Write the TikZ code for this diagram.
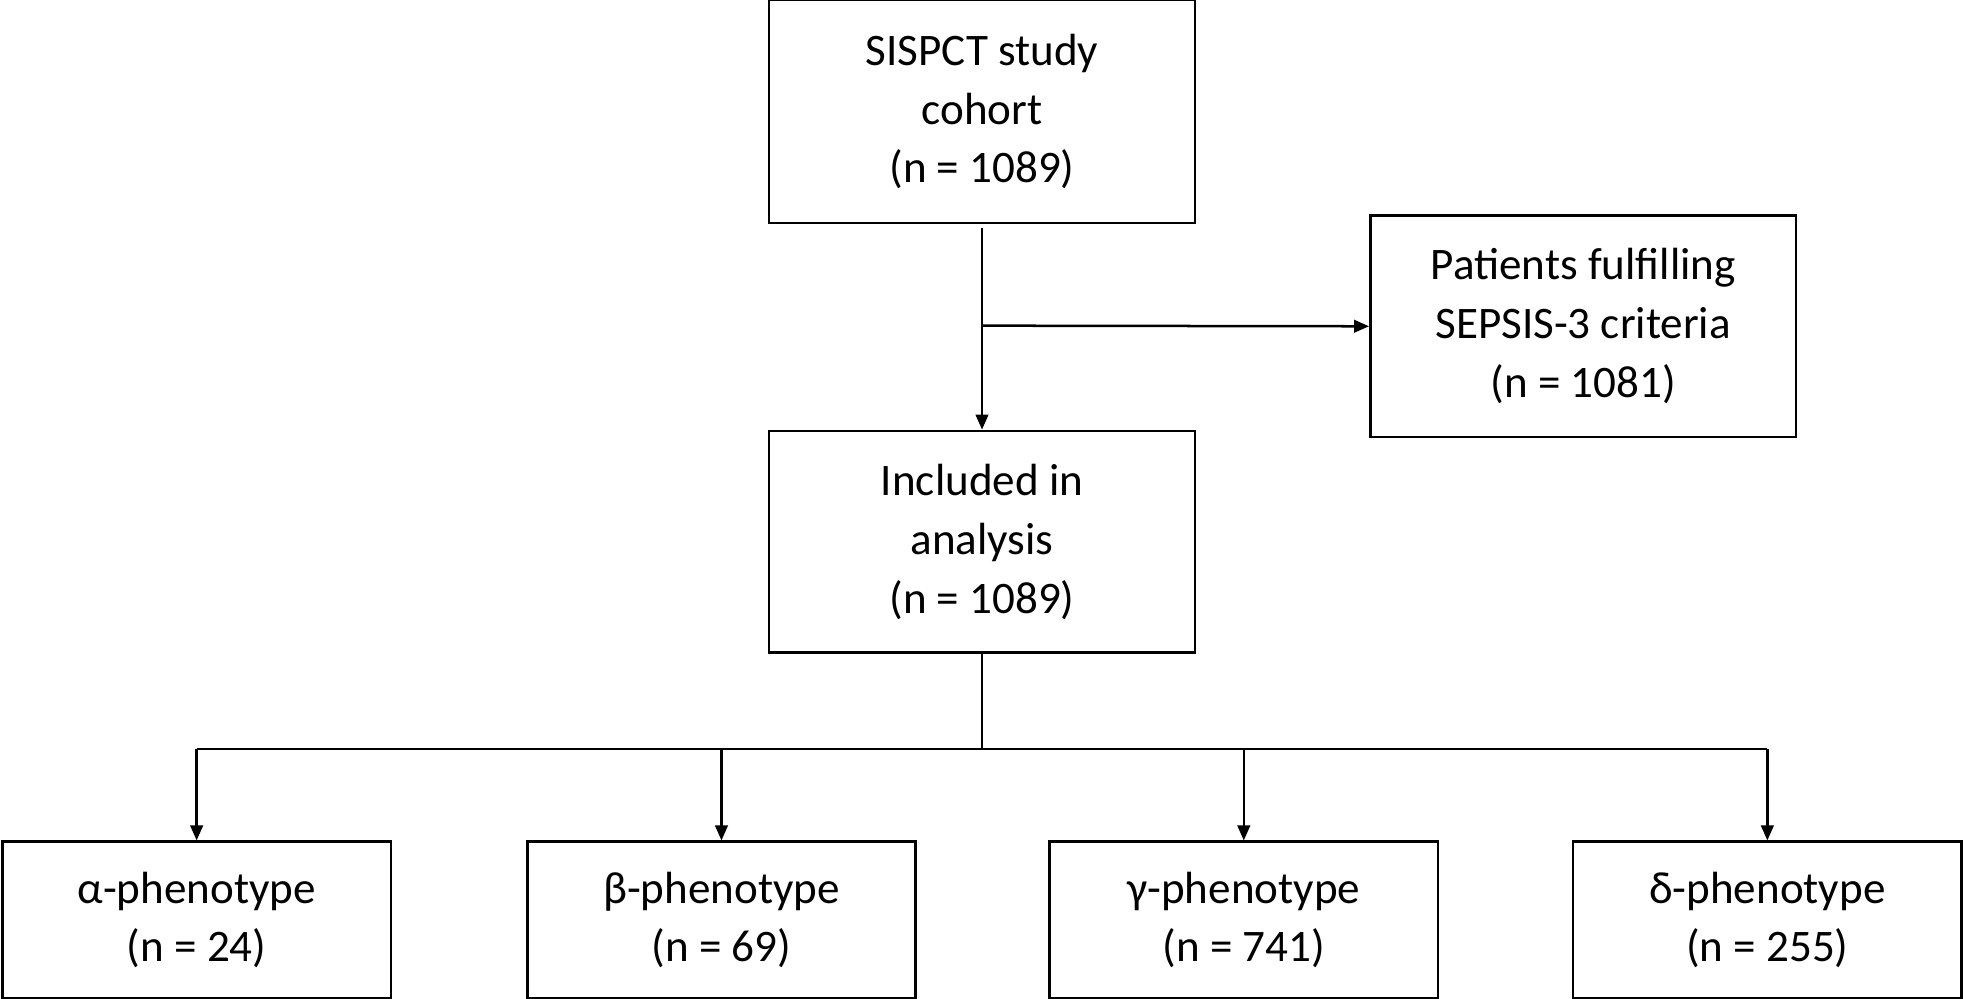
\documentclass[tikz,border=0pt]{standalone}
\usepackage{fontspec}
\setmainfont{Carlito}
\usetikzlibrary{arrows.meta}
\begin{document}
\begin{tikzpicture}[x=0.5pt,y=-0.5pt,
  box/.style={draw,line width=1pt,inner sep=0pt,align=center,font=\fontsize{18}{23.5}\selectfont},
  arr/.style={line width=1pt,-{Triangle[length=6pt,width=5pt]}}]
\useasboundingbox (0,0) rectangle (1568,797);
\node[box,minimum width=170pt,minimum height=89pt] (top) at (784,89) {SISPCT study\\cohort\\(n = 1089)};
\node[box,minimum width=170pt,minimum height=88.5pt] (sep) at (1264,260.5) {Patients fulfilling\\SEPSIS-3 criteria\\(n = 1081)};
\node[box,minimum width=170pt,minimum height=88.5pt] (inc) at (784,432.5) {Included in\\analysis\\(n = 1089)};
\node[box,minimum width=155pt,minimum height=62.5pt] (a) at (157,734.5) {α-phenotype\\(n = 24)};
\node[box,minimum width=155pt,minimum height=62.5pt] (b) at (576,734.5) {β-phenotype\\(n = 69)};
\node[box,minimum width=155pt,minimum height=62.5pt] (g) at (993,734.5) {γ-phenotype\\(n = 741)};
\node[box,minimum width=155pt,minimum height=62.5pt] (d) at (1411,734.5) {δ-phenotype\\(n = 255)};
\coordinate (s) at (784,182);
\coordinate (m) at (784,260);
\coordinate (j) at (784,598);
\draw[arr] (s) -- (inc.north);
\draw[arr] (m) -- (sep.west);
\draw[line width=1pt] (inc.south) -- (j);
\draw[line width=1pt] (157,598) -- (1411,598);
\foreach \n in {a,b,g,d} \draw[arr] (\n.north |- j) -- (\n.north);
\end{tikzpicture}
\end{document}
